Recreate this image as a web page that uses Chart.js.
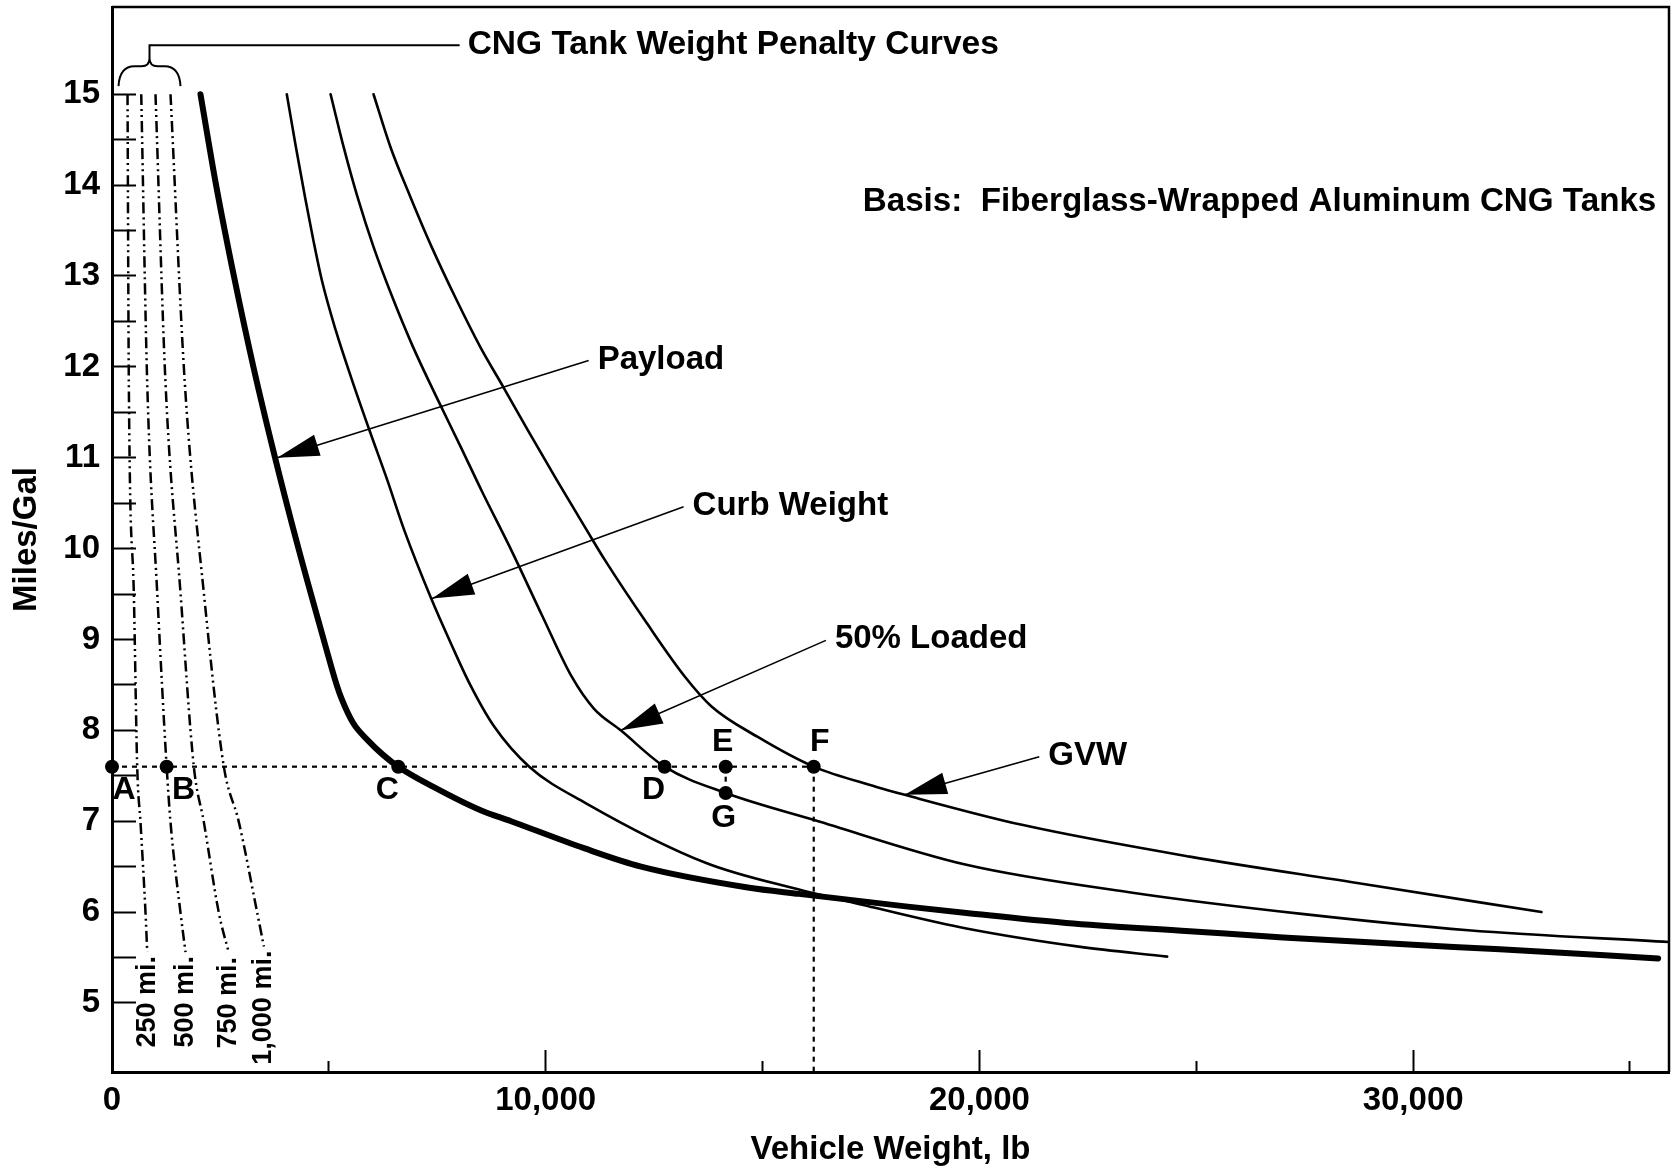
<!DOCTYPE html>
<html>
<head>
<meta charset="utf-8">
<title>CNG Tank Weight Penalty Curves</title>
<script src="https://cdn.jsdelivr.net/npm/chart.js@4.4.1/dist/chart.umd.min.js"></script>
<style>
  html, body { margin: 0; padding: 0; background: #fff; }
  canvas { display: block; }
</style>
</head>
<body>
<canvas id="mpgChart" width="1677" height="1172"></canvas>
<script>
// fuel economy (miles/gal) against vehicle weight (lb)
const payload = [[2040, 15.0], [2400, 14.0], [2810, 13.0], [3260, 12.0], [3760, 11.0], [4300, 10.0],
  [4880, 9.0], [5180, 8.5], [5300, 8.34], [5560, 8.08], [5900, 7.89], [6250, 7.73], [6600, 7.6],
  [7400, 7.38], [8500, 7.12], [9200, 7.0], [10900, 6.7], [12200, 6.5], [14660, 6.27], [15840, 6.2],
  [18350, 6.06], [19700, 5.99], [22000, 5.88], [24850, 5.79], [27000, 5.72], [30000, 5.64],
  [32000, 5.59], [35650, 5.49]];
const curbWeight = [[4030, 15.0], [4240, 14.42], [4450, 13.87], [4640, 13.4], [4840, 12.95], [5160, 12.4],
  [5530, 11.86], [5930, 11.31], [6350, 10.75], [6740, 10.2], [7360, 9.45], [7820, 8.95], [8260, 8.5],
  [8800, 8.05], [9620, 7.6], [10920, 7.2], [13700, 6.54], [15820, 6.25], [17570, 6.05],
  [19700, 5.82], [22290, 5.62], [24330, 5.51]];
const halfLoaded = [[5040, 15.0], [5340, 14.42], [5660, 13.87], [6030, 13.32], [6470, 12.76], [6940, 12.22],
  [7480, 11.67], [8040, 11.12], [8540, 10.62], [9220, 9.97], [9930, 9.25], [10600, 8.59], [11110, 8.24],
  [11730, 8.0], [12740, 7.6], [14150, 7.31], [16210, 7.01], [19700, 6.52], [23570, 6.21], [27430, 5.98],
  [31270, 5.8], [35900, 5.67]];
const gvw = [[6030, 15.0], [6420, 14.42], [6880, 13.87], [7370, 13.32], [7920, 12.76], [8490, 12.22],
  [9020, 11.78], [9580, 11.31], [10260, 10.75], [10950, 10.2], [11370, 9.87], [12330, 9.18], [13210, 8.59],
  [13830, 8.26], [14880, 7.93], [16180, 7.6], [17610, 7.38], [18280, 7.29], [20980, 6.96], [24850, 6.61],
  [28710, 6.32], [32960, 6.0]];

// tank weight penalty for each driving range
const tank250 = [[358, 15.0], [388, 11.82], [503, 9.51], [581, 7.6], [657, 6.99], [773, 5.99], [812, 5.56]];
const tank500 = [[674, 15.0], [812, 11.82], [1043, 9.51], [1260, 7.6], [1349, 6.99], [1580, 5.99], [1695, 5.56]];
const tank750 = [[1003, 15.0], [1234, 11.82], [1580, 9.51], [1887, 7.6], [2118, 6.99], [2464, 5.99], [2694, 5.55]];
const tank1000 = [[1349, 15.0], [1679, 11.82], [2118, 9.51], [2579, 7.6], [2925, 6.99], [3349, 5.99], [3502, 5.62]];
const tankRanges = ['250 mi.', '500 mi.', '750 mi.', '1,000 mi.'];

// marked points
const pointNames = ['A', 'B', 'C', 'D', 'E', 'F', 'G'];
const pointX = [0, 1260, 6600, 12740, 14150, 16180, 14150];
const pointY = [7.6, 7.6, 7.6, 7.6, 7.6, 7.6, 7.31];

// axes
const xRange = [0, 35900];
const yRange = [4.24, 15.96];
const xMajorTicks = [0, 10000, 20000, 30000];
const xMinorTicks = [5000, 15000, 25000, 35000];
const yTicks = [5, 5.5, 6, 6.5, 7, 7.5, 8, 8.5, 9, 9.5, 10, 10.5, 11, 11.5, 12, 12.5, 13, 13.5, 14, 14.5, 15];

// callouts: text sits just right of `from`, arrow points to `tip` (data units)
const callouts = [
  { text: 'Payload', from: [10990, 12.07], tip: [3810, 11.0] },
  { text: 'Curb Weight', from: [13180, 10.46], tip: [7380, 9.45] },
  { text: '50% Loaded', from: [16460, 8.99], tip: [11730, 8.0] },
  { text: 'GVW', from: [21380, 7.71], tip: [18280, 7.29] }
];
const bracket = { text: 'CNG Tank Weight Penalty Curves', at: [865, 15.54], labelX: 8200 };
const basis = { text: 'Basis:  Fiberglass-Wrapped Aluminum CNG Tanks', at: [17310, 13.82] };
const labelShift = [[12, 23], [17, 23], [-11, 23], [-11, 23], [-3, -25], [6, -25], [-2, 25]];

Chart.defaults.font.family = "'Liberation Sans', Arial, sans-serif";
Chart.defaults.color = '#000';
const boldFont = size => `bold ${size}px 'Liberation Sans', Arial, sans-serif`;

const toXY = pts => pts.map(([x, y]) => ({ x, y }));
const curve = (pts, width, dash, smooth) => ({
  data: toXY(pts), showLine: true, borderColor: '#000', borderWidth: width,
  borderDash: dash || [], borderCapStyle: dash ? 'butt' : 'round',
  pointRadius: 0, fill: false,
  cubicInterpolationMode: smooth ? 'monotone' : 'default', tension: 0
});
const dashDot = [11, 4, 2, 4, 2, 4];
const dotted = [5, 5];

const F = pointNames.indexOf('F'), E = pointNames.indexOf('E'), G = pointNames.indexOf('G');

const datasets = [
  { data: pointX.map((x, i) => ({ x, y: pointY[i] })), showLine: false, pointRadius: 7,
    pointBackgroundColor: '#000', pointBorderWidth: 0, clip: false },
  curve(payload, 6, null, true),
  curve(curbWeight, 2.6, null, true),
  curve(halfLoaded, 2.6, null, true),
  curve(gvw, 2.6, null, true),
  curve(tank250, 2.5, dashDot, true),
  curve(tank500, 2.5, dashDot, true),
  curve(tank750, 2.5, dashDot, true),
  curve(tank1000, 2.5, dashDot, true),
  curve([[pointX[0], pointY[0]], [pointX[F], pointY[F]]], 2.2, dotted, false),
  curve([[pointX[F], pointY[F]], [pointX[F], yRange[0]]], 2.2, dotted, false),
  curve([[pointX[E], pointY[E]], [pointX[G], pointY[G]]], 2.2, dotted, false)
];
const tankSets = [5, 6, 7, 8];

function arrow(ctx, x0, y0, x1, y1) {
  ctx.lineWidth = 1.6;
  ctx.beginPath();
  ctx.moveTo(x0, y0);
  ctx.lineTo(x1, y1);
  ctx.stroke();
  const a = Math.atan2(y0 - y1, x0 - x1);
  const len = 42, half = 11;
  const bx = x1 + Math.cos(a) * len, by = y1 + Math.sin(a) * len;
  ctx.beginPath();
  ctx.moveTo(x1, y1);
  ctx.lineTo(bx - Math.sin(a) * half, by + Math.cos(a) * half);
  ctx.lineTo(bx + Math.sin(a) * half, by - Math.cos(a) * half);
  ctx.closePath();
  ctx.fill();
}

const overlay = {
  id: 'overlay',
  afterDatasetsDraw(chart) {
    const { ctx, chartArea: area, scales } = chart;
    const px = v => scales.x.getPixelForValue(v);
    const py = v => scales.y.getPixelForValue(v);
    ctx.save();
    ctx.strokeStyle = '#000';
    ctx.fillStyle = '#000';
    ctx.setLineDash([]);

    // top and right edges of the frame
    ctx.lineWidth = 2.5;
    ctx.beginPath();
    ctx.moveTo(area.left, area.top);
    ctx.lineTo(area.right, area.top);
    ctx.lineTo(area.right, area.bottom);
    ctx.stroke();

    // brace over the tank curves with its heading
    const bx = px(bracket.at[0]), by = py(bracket.at[1]);
    const tx = px(bracket.labelX);
    ctx.lineWidth = 2;
    ctx.beginPath();
    ctx.moveTo(tx - 8, by);
    ctx.lineTo(bx, by);
    ctx.lineTo(bx, by + 13);
    ctx.moveTo(bx - 31, by + 41);
    ctx.quadraticCurveTo(bx - 30, by + 21, bx - 15, by + 21);
    ctx.lineTo(bx - 8, by + 21);
    ctx.quadraticCurveTo(bx, by + 21, bx, by + 13);
    ctx.quadraticCurveTo(bx, by + 21, bx + 8, by + 21);
    ctx.lineTo(bx + 15, by + 21);
    ctx.quadraticCurveTo(bx + 30, by + 21, bx + 31, by + 41);
    ctx.stroke();

    ctx.textAlign = 'left';
    ctx.textBaseline = 'middle';
    ctx.font = boldFont(33.5);
    ctx.fillText(bracket.text, tx, by);
    ctx.font = boldFont(33.2);
    ctx.fillText(basis.text, px(basis.at[0]), py(basis.at[1]));

    // curve callouts
    ctx.font = boldFont(33);
    callouts.forEach(c => {
      const x0 = px(c.from[0]), y0 = py(c.from[1]);
      arrow(ctx, x0, y0, px(c.tip[0]), py(c.tip[1]));
      ctx.fillText(c.text, x0 + 9, y0 - 1);
    });

    // letters beside the marked points
    const pts = chart.getDatasetMeta(0).data;
    ctx.font = boldFont(32);
    ctx.textAlign = 'center';
    pointNames.forEach((name, i) => {
      ctx.fillText(name, pts[i].x + labelShift[i][0], pts[i].y + labelShift[i][1]);
    });

    // range labels under the tank curves, reading upwards
    ctx.font = boldFont(27);
    ctx.textAlign = 'right';
    tankSets.forEach((di, i) => {
      const d = chart.getDatasetMeta(di).data;
      const end = d[d.length - 1];
      ctx.save();
      ctx.translate(end.x, end.y + 4);
      ctx.rotate(-Math.PI / 2);
      ctx.fillText(tankRanges[i], 0, 0);
      ctx.restore();
    });
    ctx.restore();
  }
};

// keep the plot box fixed: no extra room reserved for overhanging tick labels
const noOverhang = s => { s.paddingTop = 0; s.paddingBottom = 0; s.paddingLeft = 0; s.paddingRight = 0; };

new Chart(document.getElementById('mpgChart'), {
  type: 'scatter',
  data: { datasets },
  options: {
    responsive: false,
    animation: false,
    devicePixelRatio: 1,
    layout: { padding: { left: 0, top: 7, right: 8, bottom: 0 } },
    plugins: { legend: { display: false }, tooltip: { enabled: false } },
    scales: {
      x: {
        type: 'linear', position: 'bottom', weight: 1,
        min: xRange[0], max: xRange[1],
        afterBuildTicks: s => { s.ticks = xMajorTicks.map(value => ({ value })); },
        afterFit: s => { s.height = 100; noOverhang(s); },
        border: { display: true, color: '#000', width: 3 },
        grid: { drawOnChartArea: false, drawTicks: true, tickLength: -22, tickWidth: 2, tickColor: '#000' },
        ticks: {
          color: '#000', padding: 31, autoSkip: false, maxRotation: 0,
          font: { size: 33, weight: 'bold' },
          callback: v => v.toLocaleString('en-US')
        },
        title: {
          display: true, text: 'Vehicle Weight, lb', color: '#000',
          font: { size: 33, weight: 'bold' }, padding: { top: 0, bottom: 2 }
        }
      },
      x2: {
        type: 'linear', position: 'bottom', weight: 0,
        min: xRange[0], max: xRange[1],
        afterBuildTicks: s => { s.ticks = xMinorTicks.map(value => ({ value })); },
        afterFit: s => { s.height = 0; noOverhang(s); },
        border: { display: false },
        grid: { drawOnChartArea: false, drawTicks: true, tickLength: -11, tickWidth: 2, tickColor: '#000' },
        ticks: { display: false }
      },
      y: {
        type: 'linear', position: 'left',
        min: yRange[0], max: yRange[1],
        afterBuildTicks: s => { s.ticks = yTicks.map(value => ({ value })); },
        afterFit: s => { s.width = 112; noOverhang(s); },
        border: { display: true, color: '#000', width: 3 },
        grid: { drawOnChartArea: false, drawTicks: true, tickLength: -24, tickWidth: 2, tickColor: '#000' },
        ticks: {
          color: '#000', padding: 36, autoSkip: false,
          font: { size: 33, weight: 'bold' },
          callback: v => Number.isInteger(v) ? String(v) : ''
        },
        title: {
          display: true, text: 'Miles/Gal', color: '#000',
          font: { size: 33, weight: 'bold' }, padding: { top: 7, bottom: 0 }
        }
      }
    }
  },
  plugins: [overlay]
});
</script>
</body>
</html>
